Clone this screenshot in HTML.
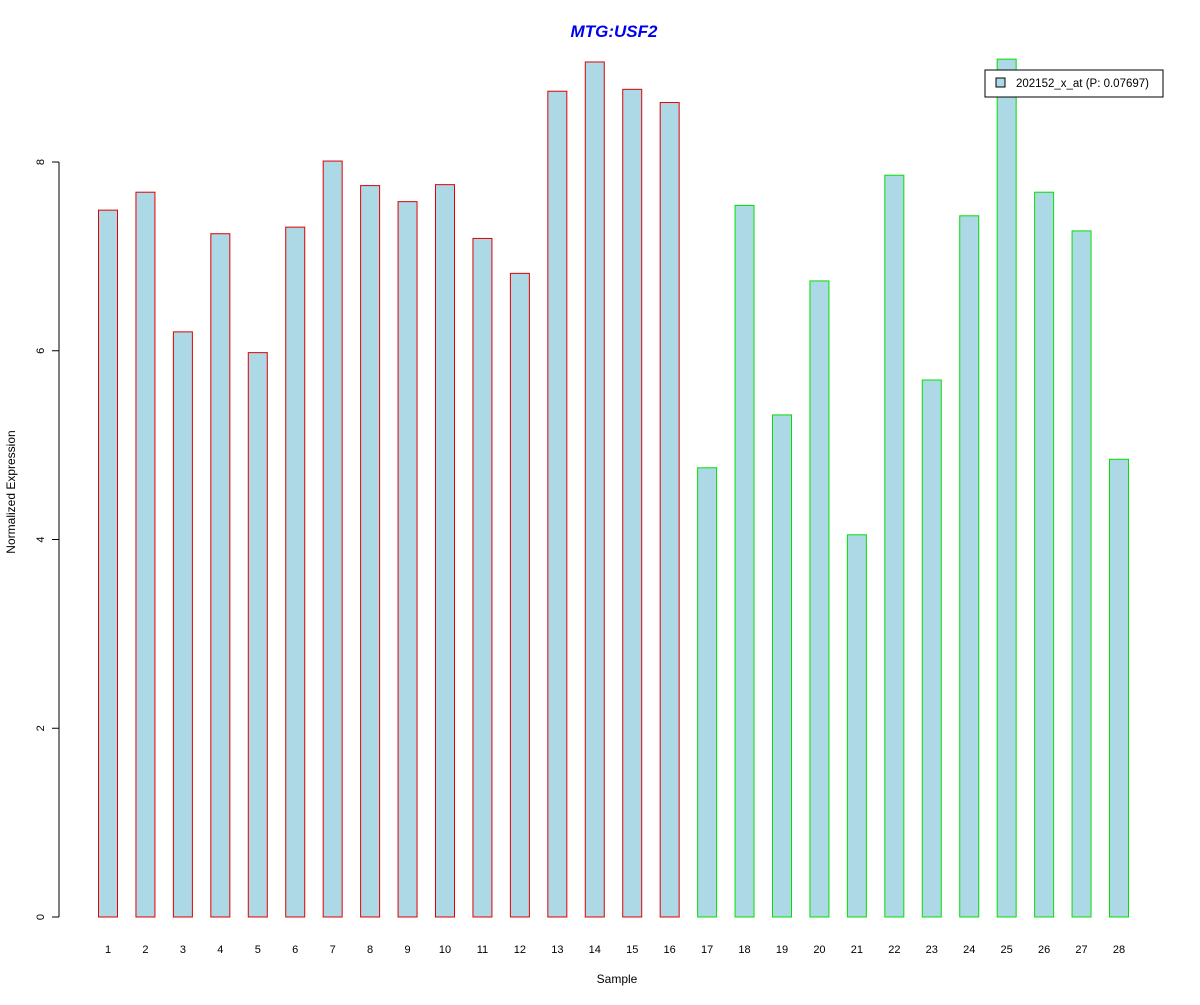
<!DOCTYPE html>
<html><head><meta charset="utf-8"><style>
body{margin:0;background:#fff;}
svg text{font-family:"Liberation Sans",Arial,sans-serif;}
</style></head><body>
<svg id="chart" width="1200" height="1000" xmlns="http://www.w3.org/2000/svg">
<rect width="1200" height="1000" fill="#fff"/>
<text x="614" y="37" text-anchor="middle" font-size="17" font-weight="bold" font-style="italic" fill="#0000ee">MTG:USF2</text>
<text x="617" y="983" text-anchor="middle" font-size="12">Sample</text>
<text transform="translate(15,492) rotate(-90)" text-anchor="middle" font-size="12">Normalized Expression</text>
<g id="bars"></g><g id="yaxis"></g><g id="xlabels"></g>
<g>
<rect x="985" y="70" width="178" height="27" fill="#fff" stroke="#000"/>
<rect x="996" y="78" width="9" height="9" fill="#add8e6" stroke="#000"/>
<text x="1016" y="87" font-size="11.5">202152_x_at (P: 0.07697)</text>
</g>
</svg>
<script>
const categories=["1","2","3","4","5","6","7","8","9","10","11","12","13","14","15","16","17","18","19","20","21","22","23","24","25","26","27","28"];
const values=[7.49,7.68,6.20,7.24,5.98,7.31,8.01,7.75,7.58,7.76,7.19,6.82,8.75,9.06,8.77,8.63,4.76,7.54,5.32,6.74,4.05,7.86,5.69,7.43,9.09,7.68,7.27,4.85];
const groups=["red","red","red","red","red","red","red","red","red","red","red","red","red","red","red","red","green","green","green","green","green","green","green","green","green","green","green","green"];
const yTicks=[0,2,4,6,8];
const NS="http://www.w3.org/2000/svg";
function yS(v){return 917-v*94.375;}
function xS(i){return 108+i*(1119-108)/27;}
const bars=document.getElementById('bars');
values.forEach((v,i)=>{
 const r=document.createElementNS(NS,'rect');
 
 
 r.setAttribute('x',xS(i)-9.5);r.setAttribute('y',yS(v));
 r.setAttribute('width',19);r.setAttribute('height',917-yS(v));
 r.setAttribute('fill','#add8e6');
 r.setAttribute('stroke',groups[i]==='red'?'#e00000':'#00e000');
 bars.appendChild(r);
 const t=document.createElementNS(NS,'text');
 
 
 t.setAttribute('x',xS(i));t.setAttribute('y',953);
 t.setAttribute('text-anchor','middle');t.setAttribute('font-size','11');
 t.textContent=categories[i];
 document.getElementById('xlabels').appendChild(t);
});
const ya=document.getElementById('yaxis');
const ax=document.createElementNS(NS,'line');


ax.setAttribute('x1',59);ax.setAttribute('x2',59);ax.setAttribute('y1',yS(0));ax.setAttribute('y2',yS(8));ax.setAttribute('stroke','#000');
ya.appendChild(ax);
yTicks.forEach(v=>{
 const l=document.createElementNS(NS,'line');
 
 
 l.setAttribute('x1',52);l.setAttribute('x2',59);l.setAttribute('y1',yS(v));l.setAttribute('y2',yS(v));l.setAttribute('stroke','#000');
 ya.appendChild(l);
 const t=document.createElementNS(NS,'text');
 
 
 t.setAttribute('transform','translate(44,'+yS(v)+') rotate(-90)');
 t.setAttribute('text-anchor','middle');t.setAttribute('font-size','11');
 t.textContent=v;
 ya.appendChild(t);
});
</script>
</body></html>
